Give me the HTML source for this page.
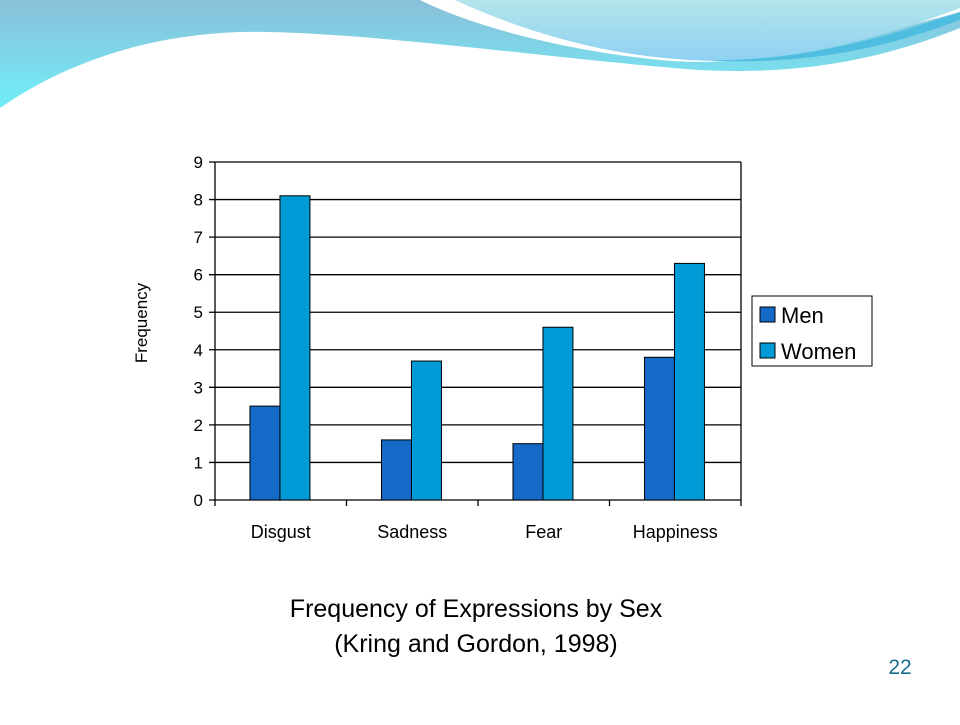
<!DOCTYPE html>
<html><head><meta charset="utf-8"><style>
html,body{margin:0;padding:0;background:#fff;}
body{width:960px;height:720px;overflow:hidden;position:relative;font-family:"Liberation Sans",Arial,sans-serif;}
svg text{font-family:"Liberation Sans",Arial,sans-serif;}
</style></head><body>
<svg id="slide" width="960" height="720" viewBox="0 0 960 720" xmlns="http://www.w3.org/2000/svg">
<defs>
<linearGradient id="g1" x1="0" y1="0" x2="0" y2="1"><stop offset="0" stop-color="#8bbfd9"/><stop offset="1" stop-color="#70eef8"/></linearGradient>
<linearGradient id="g2" x1="0" y1="0" x2="0" y2="1"><stop offset="0" stop-color="#b3e6ec"/><stop offset="1" stop-color="#8fd0f2"/></linearGradient>
</defs>
<g>
<path d="M0,0 H960 V28 C880,60 800,75 700,70 C560,60 360,30 240,32 C120,36 40,80 0,108 Z" fill="url(#g1)"/>
<path d="M232,0 C280,30 360,55 390,62 C400,62 410,62 420,61 L960,0 Z" fill="none"/>
<path d="M420,0 C470,25 560,50 660,60 C740,68 820,50 960,12 V0 Z" fill="#fff"/>
<path d="M455,0 C520,30 600,55 690,60 C760,64 850,50 960,8 V0 Z" fill="url(#g2)"/>
<path d="M700,60 C790,63 880,40 960,12 V20 C880,50 800,66 700,60 Z" fill="#4fbde0"/>
</g>
<g id="chart"></g>
<g>
<rect x="752" y="296" width="120" height="70" fill="#fff" stroke="#000" stroke-width="1"/>
<rect x="760" y="307" width="15" height="15" fill="#1569c7" stroke="#000"/>
<text x="781" y="323" font-size="22">Men</text>
<rect x="760" y="343" width="15" height="15" fill="#009ad6" stroke="#000"/>
<text x="781" y="359" font-size="22">Women</text>
</g>
<text transform="translate(147,323) rotate(-90)" text-anchor="middle" font-size="17">Frequency</text>
<text x="476" y="617" text-anchor="middle" font-size="25">Frequency of Expressions by Sex</text>
<text x="476" y="652" text-anchor="middle" font-size="25">(Kring and Gordon, 1998)</text>
<text x="900" y="674" text-anchor="middle" font-size="21" fill="#1a6e8e">22</text>
</svg>
<script>
const categories = ["Disgust","Sadness","Fear","Happiness"];
const menValues = [2.5,1.6,1.5,3.8];
const womenValues = [8.1,3.7,4.6,6.3];
const yTicks = [0,1,2,3,4,5,6,7,8,9];
const NS="http://www.w3.org/2000/svg";
const g=document.getElementById('chart');
const X0=215,X1=741,Y0=500,Y9=162,yMax=9;
const yScale=v=>Y0-(Y0-Y9)*v/yMax;
const band=(X1-X0)/categories.length;
const xBand=i=>X0+i*band;
function mk(tag,attrs){const e=document.createElementNS(NS,tag);for(const k in attrs)e.setAttribute(k,attrs[k]);g.appendChild(e);return e;}
yTicks.forEach(t=>{
  const y=yScale(t);
  const l=mk('line',{x1:X0-6,x2:X1,y1:y,y2:y,stroke:'#000','stroke-width':1.3});
  
  
  const tx=mk('text',{x:X0-12,y:y+6,'text-anchor':'end','font-size':17});
  tx.textContent=t;
  
  
});
const ax=mk('line',{x1:X0,x2:X0,y1:Y9,y2:Y0+6,stroke:'#000','stroke-width':1.3});


const rx=mk('line',{x1:X1,x2:X1,y1:Y9,y2:Y0+6,stroke:'#000','stroke-width':1.3});


for(let i=1;i<categories.length;i++){
  const tk=mk('line',{x1:xBand(i),x2:xBand(i),y1:Y0,y2:Y0+6,stroke:'#000','stroke-width':1.3});
  
  
}
const bw=band*0.228, off=band*0.266;
categories.forEach((c,i)=>{
  const x=xBand(i)+off;
  const ym=yScale(menValues[i]);
  const b1=mk('rect',{x:x,y:ym,width:bw,height:Y0-ym,fill:'#1569c7',stroke:'#000','stroke-width':1});
  
  
  const yw=yScale(womenValues[i]);
  const b2=mk('rect',{x:x+bw,y:yw,width:bw,height:Y0-yw,fill:'#009ad6',stroke:'#000','stroke-width':1});
  
  
  const t=mk('text',{x:xBand(i)+band/2,y:538,'text-anchor':'middle','font-size':18});
  t.textContent=c;
  
  
});
</script>
</body></html>
